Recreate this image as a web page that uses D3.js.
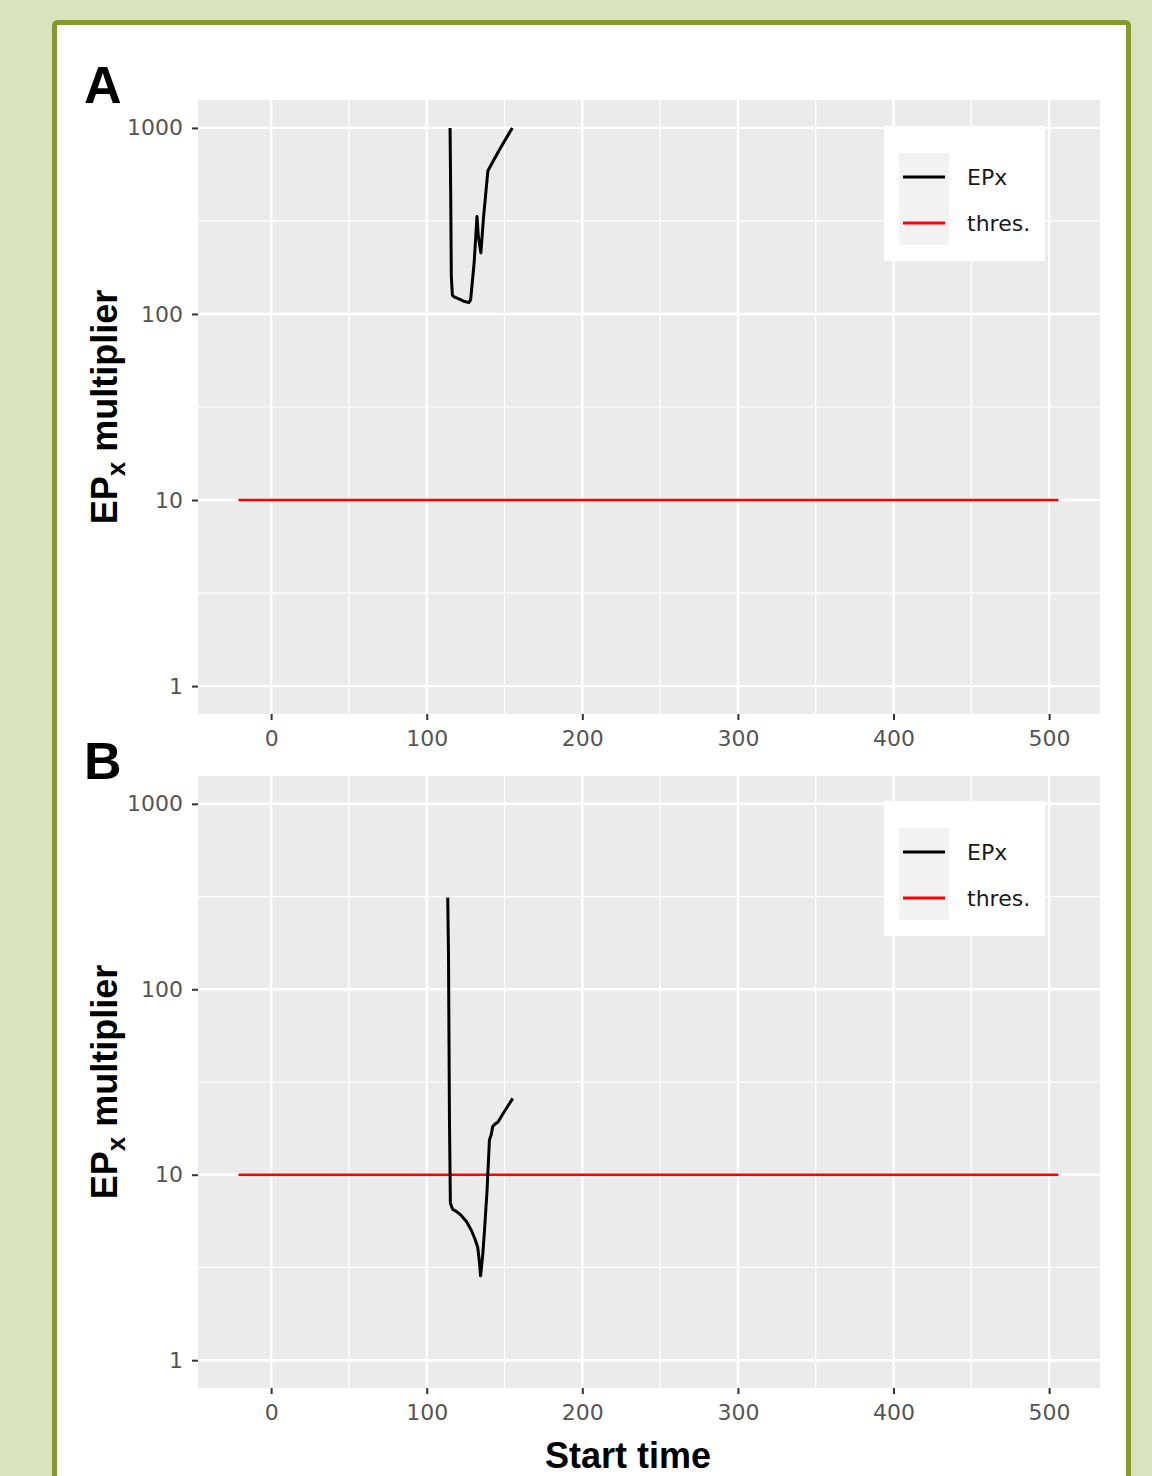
<!DOCTYPE html>
<html>
<head>
<meta charset="utf-8">
<script src="https://cdn.jsdelivr.net/npm/d3@7"></script>
<style>
  body { margin: 0; background: #d9e4bf; }
  svg { display: block; }
</style>
</head>
<body>
<div id="chart"></div>
<script>
// Axis ticks
const xTicks = [0, 100, 200, 300, 400, 500];
const xMinor = [50, 150, 250, 350, 450];
const yTicks = [1, 10, 100, 1000];
const yMinor = [Math.sqrt(10), Math.sqrt(1000), Math.sqrt(100000)];

// Threshold series (same in both panels)
const thresX = [-21, 506];
const thresY = [10, 10];

// EPx series, panel A
const epxAX = [115, 115.4, 115.8, 116.5, 118, 121, 124, 127, 128.2, 130.5, 132.3, 133.2, 134.8, 136.5, 139.3, 147, 155];
const epxAY = [1000, 450, 160, 126, 123, 120, 117, 115, 119, 190, 334, 260, 213, 330, 588, 770, 1000];

// EPx series, panel B
const epxBX = [113.5, 114, 114.6, 115.2, 116.7, 119, 122, 125.5, 128.5, 131, 132.8, 134, 134.6, 136, 137.2, 138.8, 140.3, 141.5, 142.4, 144, 145.7, 150, 155.3];
const epxBY = [312, 150, 20, 7.05, 6.5, 6.35, 6.05, 5.6, 5.05, 4.5, 4.05, 3.3, 2.85, 3.7, 5.1, 8.3, 15.4, 16.5, 18.2, 18.8, 19.2, 22, 25.8];

const legendLabels = ["EPx", "thres."];
const legendColors = ["#000000", "#ff0000"];

const W = 1152, H = 1476;
const svg = d3.select("#chart").append("svg")
    .attr("width", W)
    .attr("height", H);

// Outer framed box
svg.append("rect")
    .attr("x", 0).attr("y", 0).attr("width", W).attr("height", H)
    .attr("fill", "#d9e4bf");
svg.append("rect")
    .attr("x", 54.5).attr("y", 22.5)
    .attr("width", 1074).attr("height", 1480)
    .attr("rx", 3)
    .attr("fill", "#ffffff")
    .attr("stroke", "#87992e")
    .attr("stroke-width", 5);

const left = 198, right = 1100;
const tickFont = "'DejaVu Sans', sans-serif";
const boldFont = "'Liberation Sans', Arial, sans-serif";

function drawPanel(top, bottom, xs, ys, letter, legendTop) {
    const x = d3.scaleLinear()
        .domain([-47, 532.7])
        .range([left, right]);
    const y = d3.scaleLog()
        .domain([Math.pow(10, -0.15), Math.pow(10, 3.15)])
        .range([bottom, top]);

    const g = svg.append("g");

    // panel background
    g.append("rect")
        .attr("x", left).attr("y", top)
        .attr("width", right - left).attr("height", bottom - top)
        .attr("fill", "#ebebeb");

    // minor grid
    g.selectAll(".xminor").data(xMinor).enter().append("line")
        .attr("x1", d => x(d)).attr("x2", d => x(d))
        .attr("y1", top).attr("y2", bottom)
        .attr("stroke", "#ffffff").attr("stroke-width", 1.2);
    g.selectAll(".yminor").data(yMinor).enter().append("line")
        .attr("x1", left).attr("x2", right)
        .attr("y1", d => y(d)).attr("y2", d => y(d))
        .attr("stroke", "#ffffff").attr("stroke-width", 1.2);

    // major grid
    g.selectAll(".xmajor").data(xTicks).enter().append("line")
        .attr("x1", d => x(d)).attr("x2", d => x(d))
        .attr("y1", top).attr("y2", bottom)
        .attr("stroke", "#ffffff").attr("stroke-width", 2.4);
    g.selectAll(".ymajor").data(yTicks).enter().append("line")
        .attr("x1", left).attr("x2", right)
        .attr("y1", d => y(d)).attr("y2", d => y(d))
        .attr("stroke", "#ffffff").attr("stroke-width", 2.4);

    // axes
    const xAxis = g.append("g")
        .attr("transform", `translate(0, ${bottom})`)
        .call(d3.axisBottom(x).tickValues(xTicks).tickSize(6).tickPadding(10).tickFormat(d3.format("d")));
    const yAxis = g.append("g")
        .attr("transform", `translate(${left}, 0)`)
        .call(d3.axisLeft(y).tickValues(yTicks).tickSize(6).tickPadding(9).tickFormat(d3.format("d")));
    [xAxis, yAxis].forEach(a => {
        a.select(".domain").remove();
        a.selectAll(".tick line").attr("stroke", "#333333").attr("stroke-width", 2);
        a.selectAll(".tick text")
            .attr("fill", "#555555")
            .style("font-family", tickFont)
            .style("font-size", "22px");
    });

    // threshold line
    const line = d3.line().x(d => x(d[0])).y(d => y(d[1]));
    g.append("path")
        .datum(d3.zip(thresX, thresY))
        .attr("d", line)
        .attr("fill", "none")
        .attr("stroke", "#ff0000")
        .attr("stroke-width", 2.6);

    // EPx line
    g.append("path")
        .datum(d3.zip(xs, ys))
        .attr("d", line)
        .attr("fill", "none")
        .attr("stroke", "#000000")
        .attr("stroke-width", 3)
        .attr("stroke-linejoin", "round");

    // legend
    const lg = g.append("g").attr("transform", `translate(884, ${legendTop})`);
    lg.append("rect")
        .attr("width", 161).attr("height", 135)
        .attr("fill", "#ffffff");
    lg.append("rect")
        .attr("x", 15).attr("y", 27)
        .attr("width", 50).attr("height", 92)
        .attr("fill", "#f2f2f2");
    legendLabels.forEach((lab, i) => {
        const ly = 51 + i * 46;
        lg.append("line")
            .attr("x1", 19).attr("x2", 61)
            .attr("y1", ly).attr("y2", ly)
            .attr("stroke", legendColors[i])
            .attr("stroke-width", 3.2);
        lg.append("text")
            .attr("x", 83).attr("y", ly + 8)
            .attr("fill", "#1a1a1a")
            .style("font-family", tickFont)
            .style("font-size", "22px")
            .text(lab);
    });

    // panel letter
    svg.append("text")
        .attr("x", 84).attr("y", top + 3)
        .style("font-family", boldFont)
        .style("font-weight", "bold")
        .style("font-size", "52px")
        .text(letter);

    // y title with subscript
    const yt = svg.append("text")
        .attr("transform", `translate(117, ${(top + bottom) / 2}) rotate(-90)`)
        .attr("text-anchor", "middle")
        .style("font-family", boldFont)
        .style("font-weight", "bold")
        .style("font-size", "36px");
    yt.append("tspan").text("EP");
    yt.append("tspan").attr("dy", 8).style("font-size", "26px").text("x");
    yt.append("tspan").attr("dy", -8).text(" multiplier");
}

drawPanel(100, 714, epxAX, epxAY, "A", 126);
drawPanel(776, 1388, epxBX, epxBY, "B", 801);

svg.append("text")
    .attr("x", 628).attr("y", 1468)
    .attr("text-anchor", "middle")
    .style("font-family", boldFont)
    .style("font-weight", "bold")
    .style("font-size", "36px")
    .text("Start time");
</script>
</body>
</html>
